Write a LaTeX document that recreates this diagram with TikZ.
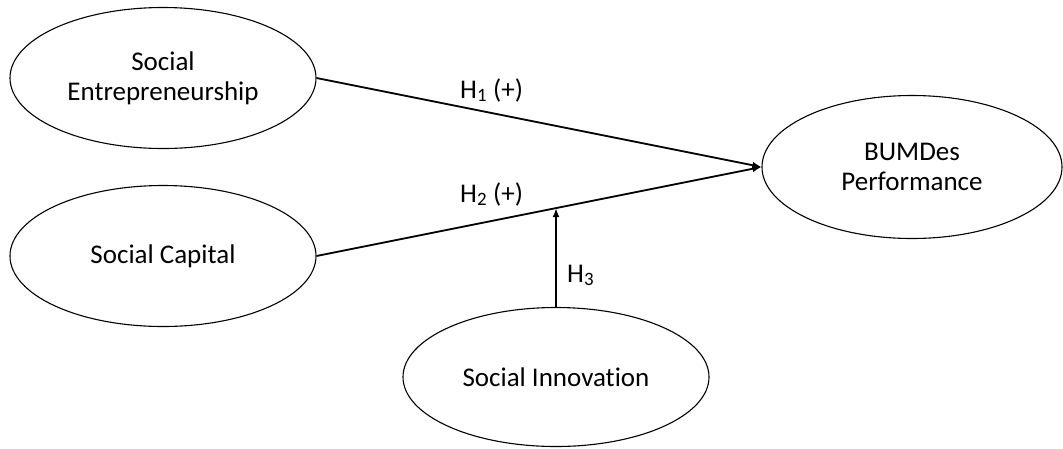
\documentclass[tikz,border=0pt]{standalone}
\usepackage{fontspec}
\setmainfont{Carlito}[Ligatures=NoCommon]
\usetikzlibrary{shapes.geometric,arrows.meta}
\begin{document}
\begin{tikzpicture}[x=1pt,y=-1pt,
  construct/.style={draw, ellipse, line width=1.1pt, inner sep=0pt, minimum width=306pt, minimum height=141pt, align=center, font=\fontsize{27}{30}\selectfont},
  path/.style={line width=1.8pt, -{Latex[length=9pt,width=7pt]}},
  hlabel/.style={anchor=base west, inner sep=0pt, font=\fontsize{27}{30}\selectfont}]
\useasboundingbox (0,0) rectangle (1063,448);
\node[construct] (se) at (163,78) {Social\\Entrepreneurship};
\node[construct] (sc) at (163,256) {Social Capital};
\node[construct, minimum width=300pt, minimum height=143pt] (bp) at (912,167) {BUMDes\\Performance};
\node[construct, minimum height=139pt] (si) at (556,377) {Social Innovation};
\draw[path] (se.east) -- (bp.west);
\draw[path] (sc.east) -- (bp.west);
\coordinate (m) at (intersection of sc.east--bp.west and si.north--si.south);
\draw[path] (si.north) -- (m);
\node[hlabel] (h1) at (460,98) {H\textsubscript{1} (+)};
\node[hlabel] (h2) at (460,202) {H\textsubscript{2} (+)};
\node[hlabel] (h3) at (567,282) {H\textsubscript{3}};
\end{tikzpicture}
\end{document}
